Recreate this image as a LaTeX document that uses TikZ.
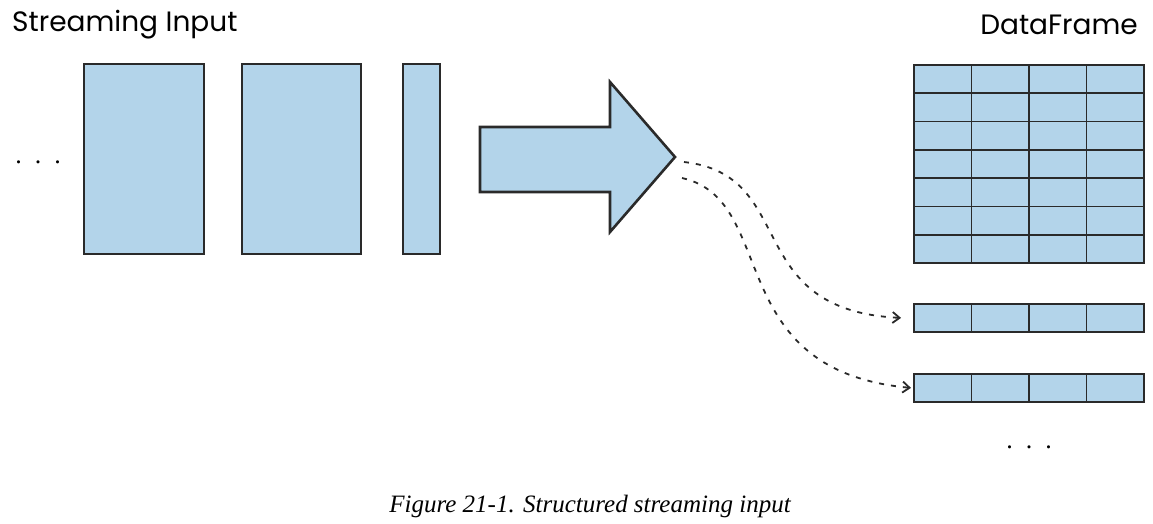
\documentclass[tikz,border=0pt]{standalone}
\usepackage{fontspec}
\setmainfont{Liberation Serif}
\newfontfamily\hand{Poppins}
\usetikzlibrary{arrows.meta}
\definecolor{cellblue}{HTML}{B3D4EA}
\definecolor{edge}{HTML}{2A2A2A}
\begin{document}
\begin{tikzpicture}[x=1pt,y=-1pt,
  blk/.style={fill=cellblue,draw=edge,line width=2.6pt},
  cell/.style={fill=cellblue,draw=edge,line width=1.8pt},
  lbl/.style={font=\hand\fontsize{28}{30}\selectfont,inner sep=0pt},
  flow/.style={draw=edge,line width=1.8pt,dash pattern=on 5pt off 7pt,-{Straight Barb[length=7pt,width=11pt]}}]
\useasboundingbox (0,0) rectangle (1153,523);
\node[lbl,anchor=west] (t1) at (12,25) {Streaming Input};
\node[lbl,anchor=east] (t2) at (1138,25) {DataFrame};
\node[blk,minimum width=120pt,minimum height=190pt,inner sep=0pt] (b1) at (144,159) {};
\node[blk,minimum width=119pt,minimum height=190pt,inner sep=0pt] (b2) at (301.5,159) {};
\node[blk,minimum width=37pt,minimum height=190pt,inner sep=0pt] (b3) at (421.5,159) {};
\node[font=\fontsize{26}{26}\selectfont] (d1) at (38,162) {.\ \ .\ \ .};
\node[font=\fontsize{26}{26}\selectfont] (d2) at (1029,447) {.\ \ .\ \ .};
\draw[blk] (480,127) -- (610,127) -- (610,82) -- (675,157) -- (610,232) -- (610,192) -- (480,192) -- cycle;
\foreach \r in {0,...,6}{
  \foreach \c in {0,...,3}{
    \node[cell,minimum width=57.5pt,minimum height=28.3pt,inner sep=0pt,anchor=north west] (g\r\c) at (913+57.5*\c,64+28.3*\r) {};
  }}
\foreach \c in {0,...,3}{
  \node[cell,minimum width=57.5pt,minimum height=28pt,inner sep=0pt,anchor=north west] (p\c) at (913+57.5*\c,303) {};
  \node[cell,minimum width=57.5pt,minimum height=28pt,inner sep=0pt,anchor=north west] (q\c) at (913+57.5*\c,373) {};
}
\coordinate (s1) at (684,162);
\coordinate (s2) at (682,178);
\draw[flow] (s1) .. controls (800,175) and (740,310) .. ([xshift=-12pt]p0.west);
\draw[flow] (s2) .. controls (780,200) and (720,370) .. ([xshift=-2pt]q0.west);
\node[font=\itshape\fontsize{25}{27}\selectfont] (cap) at (590,506) {Figure 21-1. Structured streaming input};
\end{tikzpicture}
\end{document}
